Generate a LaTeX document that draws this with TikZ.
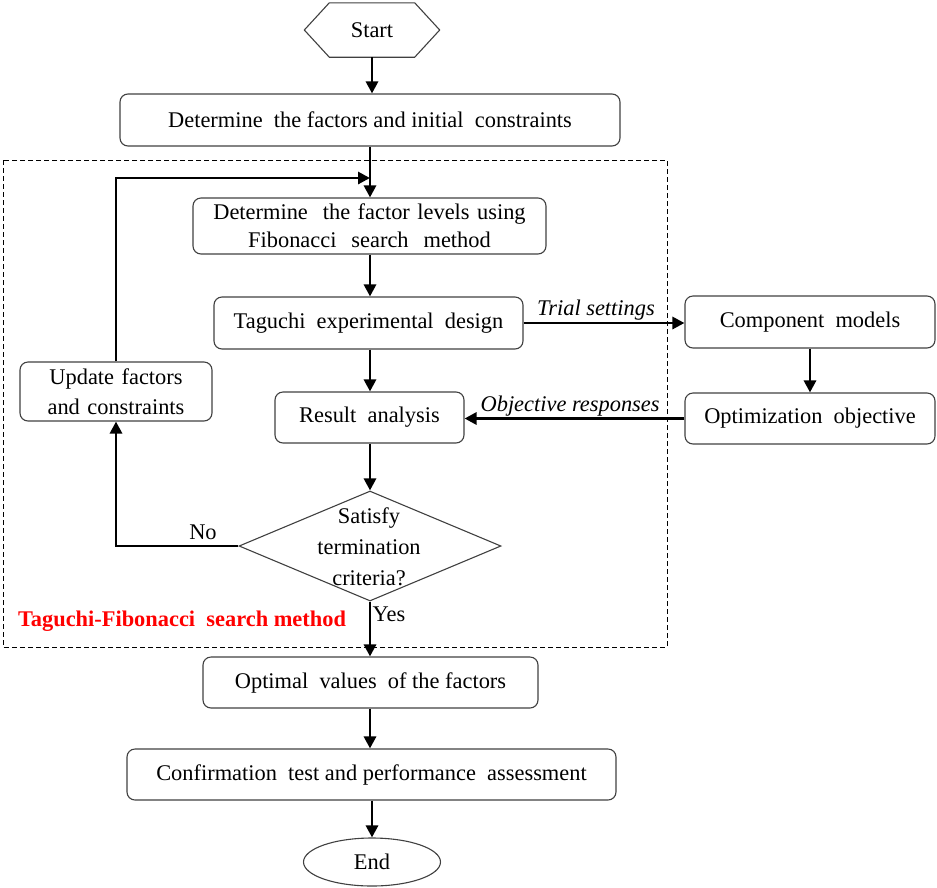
\documentclass[tikz,border=0pt]{standalone}
\usepackage{fontspec}
\setmainfont{Liberation Serif}
\usetikzlibrary{shapes.geometric,arrows.meta,calc}
\begin{document}
\begin{tikzpicture}[x=1pt,y=-1pt,
  txt/.style={font=\fontsize{22.4}{29.5}\selectfont, align=center, inner sep=0pt},
  box/.style={txt, draw=black!75, line width=1.1pt, rounded corners=8pt},
  flow/.style={line width=2.9pt, -{Triangle[length=12pt,width=12pt]}},
  lbl/.style={font=\fontsize{22.4}{26}\selectfont, inner sep=1pt},
  ilbl/.style={font=\fontsize{22.4}{26}\selectfont\itshape, inner sep=1pt}]
\useasboundingbox (0,0) rectangle (937,887);

% search-method frame
\draw[dashed, line width=0.9pt, dash pattern=on 5pt off 3pt] (3,160) rectangle (667,647);
\node[font=\fontsize{22.4}{26}\selectfont\bfseries, text=red, anchor=center] (tfs) at (182,621) {Taguchi-Fibonacci\ \ search method};

% terminals
\node[txt, minimum width=135, minimum height=54] (start) at (372,30) {Start};
\draw[draw=black!75, line width=1.1pt]
  ($(start.north west)+(25,0)$) -- ($(start.north east)+(-25,0)$) -- (start.east)
  -- ($(start.south east)+(-25,0)$) -- ($(start.south west)+(25,0)$) -- (start.west) -- cycle;
\node[txt, ellipse, draw=black!75, line width=1.1pt, minimum width=137, minimum height=48] (end) at (372,862) {End};

% process boxes
\node[box, minimum width=500, minimum height=52] (init) at (370,120) {Determine\ \ the factors and initial\ \ constraints};
\node[box, minimum width=353, minimum height=56, text width=340] (levels) at (369.5,226) {Determine\ \ the factor levels using\\[-1.5pt]Fibonacci\ \ search\ \ method};
\node[box, minimum width=309, minimum height=52] (taguchi) at (368.5,323) {Taguchi\ \ experimental\ \ design};
\node[box, minimum width=250, minimum height=52] (comp) at (810,322) {Component\ \ models};
\node[box, minimum width=250, minimum height=51] (optobj) at (810,418.5) {Optimization\ \ objective};
\node[box, minimum width=189, minimum height=51] (result) at (369.5,417.5) {Result\ \ analysis};
\node[box, minimum width=192, minimum height=59, text width=185] (update) at (116,391.5) {Update factors\\and constraints};
\node[txt, diamond, draw=black!75, line width=1.1pt, minimum width=262, minimum height=110, aspect=2.38, inner sep=0pt] (check) at (370,546) {};
\node[txt, font=\fontsize{22.4}{31}\selectfont] (checktxt) at (369,547) {Satisfy\\termination\\criteria?};
\node[box, minimum width=335, minimum height=51] (optimal) at (370.5,682.5) {Optimal\ \ values\ \ of the factors};
\node[box, minimum width=489, minimum height=51] (confirm) at (371.5,774.5) {Confirmation\ \ test and performance\ \ assessment};

% vertical spine of the main flow
\coordinate (spine) at (370,0);
\coordinate (spineend) at (372,0);

% main flow
\draw[flow] (start.south) -- (start.south |- init.north);
\draw[flow] (spine |- init.south) -- (spine |- levels.north);
\draw[flow] (spine |- levels.south) -- (spine |- taguchi.north);
\draw[flow] (spine |- taguchi.south) -- (spine |- result.north);
\draw[flow] (spine |- result.south) -- (check.north);
\draw[flow] (check.south) -- (check.south |- optimal.north);
\draw[flow] (spine |- optimal.south) -- (spine |- confirm.north);
\draw[flow] (spineend |- confirm.south) -- (end.north);

% model evaluation loop
\draw[flow] (taguchi.east) -- node[ilbl, above, pos=0.45] {Trial settings} (taguchi.east -| comp.west);
\draw[flow] (comp.south) -- (comp.south |- optobj.north);
\draw[flow] (optobj.west) -- node[ilbl, above, pos=0.52] {Objective responses} (optobj.west -| result.east);

% termination decision
\coordinate (loop) at (370,178);
\draw[flow] (check.west) -| node[lbl, pos=0.145, above=4pt] {No} (update.south);
\draw[flow] (update.north) |- (loop);
\node[lbl] (yes) at (389,614) {Yes};
\end{tikzpicture}
\end{document}
